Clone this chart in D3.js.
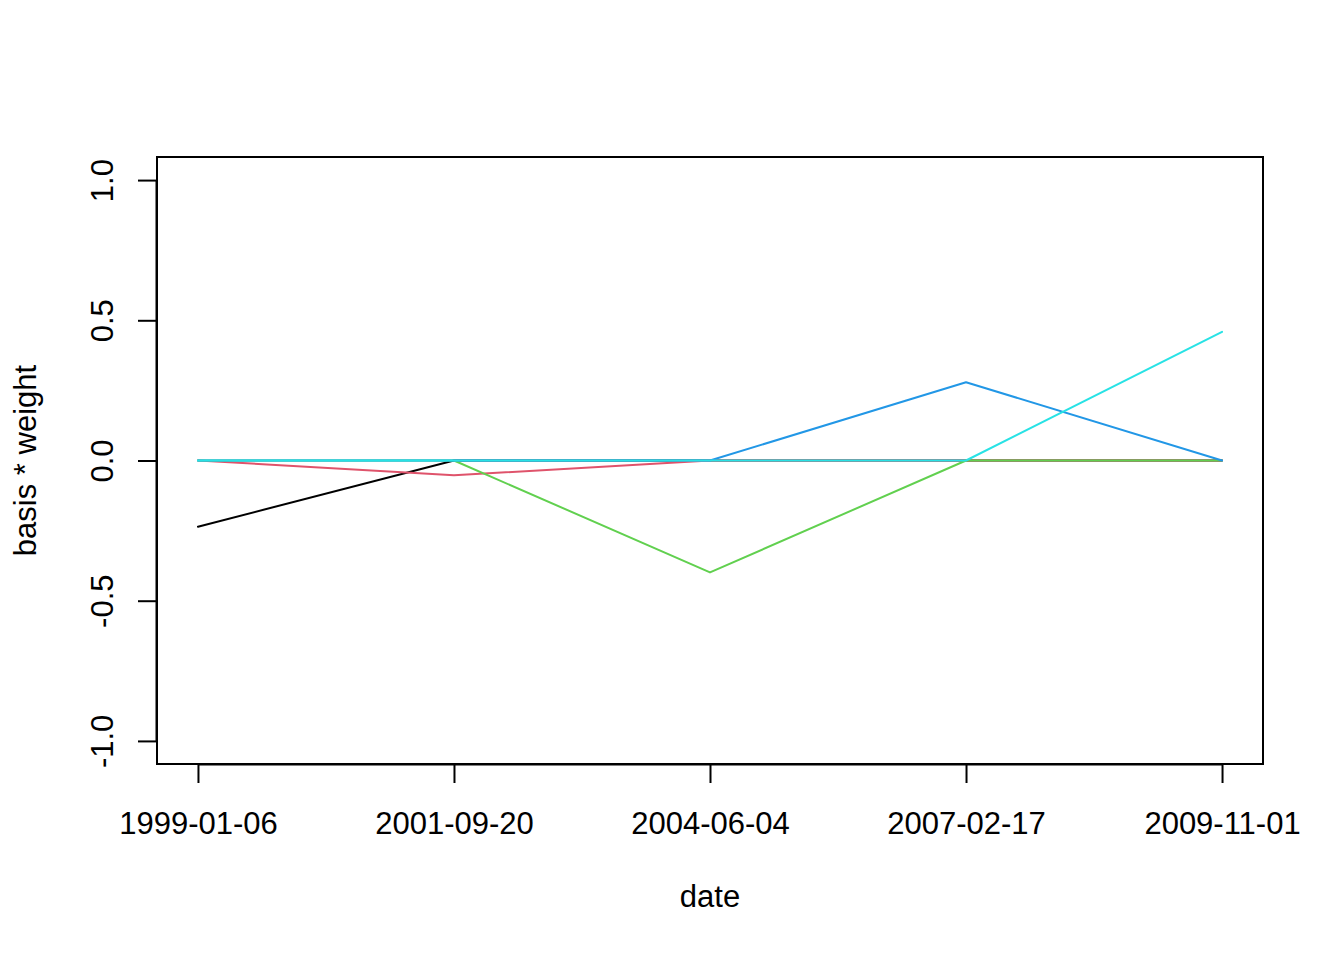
<!DOCTYPE html>
<html>
<head>
<meta charset="utf-8">
<script src="https://cdn.jsdelivr.net/npm/d3@7"></script>
<style>
  html, body { margin: 0; padding: 0; background: #fff; }
  text { font-family: "Liberation Sans", Arial, Helvetica, sans-serif; fill: #000; }
</style>
</head>
<body>
<script>
const dateLabels = ["1999-01-06", "2001-09-20", "2004-06-04", "2007-02-17", "2009-11-01"];
const seriesNames = ["s1", "s2", "s3", "s4", "s5"];
const seriesColors = ["#000000", "#DF536B", "#61D04F", "#2297E6", "#28E2E5"];
const s1 = [-0.236, 0, 0, 0, 0];
const s2 = [0, -0.053, 0, 0, 0];
const s3 = [0, 0, -0.399, 0, 0];
const s4 = [0, 0, 0, 0.279, 0];
const s5 = [0, 0, 0, 0, 0.459];
const yTicks = [-1.0, -0.5, 0.0, 0.5, 1.0];

const series = [s1, s2, s3, s4, s5];
const dates = dateLabels.map(d => d3.utcParse("%Y-%m-%d")(d));

const W = 1344, H = 960;
const L = 157, R = 1263, T = 157, B = 764;
const FS = 31;

const svg = d3.select("body").append("svg").attr("width", W).attr("height", H);

const t0 = +dates[0], t1 = +dates[dates.length - 1];
const pad = (t1 - t0) * 0.04;
const x = d3.scaleUtc().domain([new Date(t0 - pad), new Date(t1 + pad)]).range([L, R]);
const y = d3.scaleLinear().domain([-1.0823, 1.0823]).range([B, T]);

const line = d3.line().x((d, i) => x(dates[i])).y(d => y(d));

series.forEach((s, k) => {
  svg.append("path").datum(s)
    .attr("d", line)
    .attr("fill", "none")
    .attr("stroke", seriesColors[k])
    .attr("stroke-width", 2)
    .attr("stroke-linejoin", "round")
    .attr("stroke-linecap", "round");
});

// box
svg.append("rect").attr("x", L).attr("y", T).attr("width", R - L).attr("height", B - T)
  .attr("fill", "none").attr("stroke", "#000").attr("stroke-width", 2);

// x axis
const xAxis = d3.axisBottom(x).tickValues(dates).tickFormat((d, i) => dateLabels[i]).tickSize(19);
const gx = svg.append("g").attr("transform", `translate(0,${B})`).call(xAxis);
gx.attr("font-family", null);
gx.select(".domain").attr("d", `M${x(dates[0])},0.5H${x(dates[dates.length-1])}`).attr("stroke-width", 2);
gx.selectAll(".tick line").attr("stroke-width", 2);
gx.selectAll(".tick text").attr("font-size", FS).attr("dy", null).attr("y", 70);

// y axis
const fmt = d => d3.format(".1f")(d).replace("\u2212", "-");
const yAxis = d3.axisLeft(y).tickValues(yTicks).tickFormat(fmt).tickSize(19);
const gy = svg.append("g").attr("transform", `translate(${L},0)`).call(yAxis);
gy.attr("font-family", null);
gy.select(".domain").attr("d", `M-0.5,${y(-1)}V${y(1)}`).attr("stroke-width", 2);
gy.selectAll(".tick line").attr("stroke-width", 2);
gy.selectAll(".tick text").attr("font-size", FS)
  .attr("x", null).attr("dy", null)
  .attr("text-anchor", "middle")
  .attr("transform", "translate(-44,0) rotate(-90)")
  .attr("y", 0);

// titles
svg.append("text").attr("x", (L + R) / 2).attr("y", 907).attr("text-anchor", "middle")
  .attr("font-size", FS).text("date");
svg.append("text").attr("transform", `translate(36,${(T + B) / 2}) rotate(-90)`)
  .attr("text-anchor", "middle").attr("font-size", FS).text("basis * weight");
</script>
</body>
</html>
